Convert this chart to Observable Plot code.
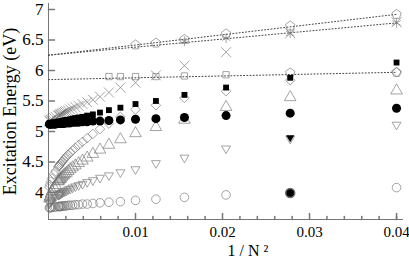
<!DOCTYPE html>
<html><head><meta charset="utf-8">
<script src="https://cdn.jsdelivr.net/npm/d3@7"></script>
<script src="https://cdn.jsdelivr.net/npm/@observablehq/plot@0.6"></script>
<style>html,body{margin:0;padding:0;background:#fff}</style>
</head><body><div id="chart"></div>
<script>
// N values (x = 1/N^2)
const nCluster = [5,6,7,8,9,10,11,12,13,14,15,16,17,18,19,20,21,22,23,24,25,26,27,28,29,30,35,40,50,60,80,100];
const openCircle   = [4.08,3.99,3.96,3.92,3.89,3.87,3.85,3.84,3.83,3.82,3.81,3.81,3.80,3.80,3.79,3.79,3.79,3.78,3.78,3.78,3.78,3.77,3.77,3.77,3.77,3.77,3.76,3.76,3.76,3.75,3.75,3.75];
const downTriangle = [5.11,4.88,4.72,4.57,4.48,4.38,4.33,4.28,4.24,4.20,4.17,4.14,4.12,4.10,4.08,4.06,4.05,4.03,4.02,4.01,4.00,3.99,3.98,3.97,3.96,3.96,3.93,3.91,3.88,3.86,3.84,3.82];
const upTriangle   = [5.67,5.56,5.40,5.19,5.07,4.97,4.87,4.78,4.70,4.63,4.57,4.52,4.48,4.44,4.41,4.38,4.35,4.32,4.30,4.28,4.26,4.24,4.22,4.21,4.19,4.18,4.12,4.08,4.02,3.98,3.93,3.90];
const diamondS     = [5.97,5.84,5.66,5.55,5.43,5.36,5.24,5.13,5.04,4.96,4.89,4.83,4.78,4.73,4.69,4.65,4.62,4.59,4.56,4.53,4.51,4.49,4.47,4.45,4.43,4.42,4.35,4.30,4.23,4.18,4.13,4.09];
const crossS       = [6.79,6.61,6.30,6.08,5.92,5.80,5.72,5.64,5.57,5.52,5.48,5.45,5.42,5.40,5.38,5.36,5.34,5.33,5.32,5.31,5.30,5.29,5.28,5.27,5.26,5.26,5.24,5.22,5.20,5.19,5.18,5.17];
const filledCircle = [5.38,5.30,5.26,5.23,5.21,5.20,5.19,5.18,5.17,5.17,5.16,5.16,5.15,5.15,5.15,5.14,5.14,5.14,5.14,5.13,5.13,5.13,5.13,5.13,5.13,5.13,5.12,5.12,5.12,5.12,5.12,5.12];
const filledSquare = [6.13,5.88,5.72,5.60,5.50,5.45,5.39,5.35,5.31,5.28,5.26,5.24,5.23,5.22,5.21,5.20,5.19,5.19,5.18,5.18,5.17,5.17,5.16,5.16,5.16,5.16,5.15,5.15,5.14,5.14,5.13,5.13];

const nPentTop = [5,6,7,8,9,10];
const pentTop  = [6.92,6.73,6.60,6.51,6.45,6.42];
const nStar = [5,6,7,8];
const starS = [6.78,6.61,6.53,6.48];
const nPentLow = [5,6];
const pentLow  = [5.97,5.96];
const nSquare = [7,8,9,10,11,12];
const openSquare = [5.93,5.91,5.90,5.90,5.90,5.90];
const nExtra = [6];
const extraDownTri = [4.90];
const extraCircle  = [3.99];

// dotted extrapolation lines
const fitX    = [0, 0.04];
const fitTop  = [6.25, 6.92];
const fitMid  = [6.25, 6.78];
const fitLow  = [5.85, 5.97];

// axes
const xMajor = [0.01, 0.02, 0.03, 0.04];
const xMajorLabels = ["0.01", "0.02", "0.03", "0.04"];
const xMinor = [0.002,0.004,0.006,0.008,0.012,0.014,0.016,0.018,0.022,0.024,0.026,0.028,0.032,0.034,0.036,0.038,0.040];
const yMajor = [4, 4.5, 5, 5.5, 6, 6.5, 7];
const yMajorLabels = ["4", "4.5", "5", "5.5", "6", "6.5", "7"];
const xDomain = [0, 0.0408];
const yDomain = [3.557, 7.098];

const rows = (ns, vals) => ns.map((n, i) => ({x: 1 / (n * n), y: vals[i]}));
const polygon = (angles, scale) => ({
  draw(ctx, size) {
    const r = Math.sqrt(size / Math.PI) * scale;
    angles.forEach((a, k) => {
      const px = r * Math.cos(a), py = r * Math.sin(a);
      if (k) ctx.lineTo(px, py); else ctx.moveTo(px, py);
    });
    ctx.closePath();
  }
});
const deg = Math.PI / 180;
const pentagon = polygon([-90, -18, 54, 126, 198].map(a => a * deg), 1.15);
const downTri = polygon([90, 210, 330].map(a => a * deg), 1.25);
const tickUp = {draw(ctx, l) { ctx.moveTo(0, 0); ctx.lineTo(0, -l); }};

const gray = "#6f6f6f";
const hollow = (data, symbol, r) => Plot.dot(data, {x: "x", y: "y", symbol, r, stroke: gray, strokeOpacity: 0.7, strokeWidth: 0.9, fill: "none"});
const fitLine = (ys) => Plot.line(fitX.map((x, i) => ({x, y: ys[i]})), {x: "x", y: "y", stroke: "#444", strokeWidth: 1, strokeDasharray: "1,2.2"});

const chart = Plot.plot({
  width: 409, height: 264,
  marginLeft: 48, marginRight: 6, marginTop: 3, marginBottom: 45,
  x: {domain: xDomain, axis: null},
  y: {domain: yDomain, axis: null},
  style: {fontFamily: "'Liberation Serif', 'DejaVu Serif', serif", background: "#fff", color: "#000"},
  marks: [
    // axis lines
    Plot.ruleX([xDomain[0]], {stroke: "#777", strokeWidth: 1}),
    Plot.ruleY([yDomain[0]], {stroke: "#777", strokeWidth: 1}),
    Plot.vector(xMajor, {x: d => d, y: yDomain[0], length: 6, rotate: 0, anchor: "start", shape: tickUp, stroke: "#777"}),
    Plot.vector(xMinor, {x: d => d, y: yDomain[0], length: 3, rotate: 0, anchor: "start", shape: tickUp, stroke: "#777"}),
    Plot.vector(yMajor, {x: xDomain[0], y: d => d, length: 6, rotate: 90, anchor: "start", shape: tickUp, stroke: "#777"}),
    Plot.text(xMajor, {x: d => d, frameAnchor: "bottom", dy: 17, text: (d, i) => xMajorLabels[i], fontSize: 15, fill: "#000"}),
    Plot.text(yMajor, {y: d => d, frameAnchor: "left", dx: -5, textAnchor: "end", text: (d, i) => yMajorLabels[i], fontSize: 17, fill: "#000"}),
    Plot.text(["Excitation Energy (eV)"], {frameAnchor: "left", textAnchor: "middle", dx: -38, rotate: -90, fontSize: 18, fill: "#000"}),
    Plot.text(["1 / N ²"], {frameAnchor: "bottom", textAnchor: "middle", dx: 22, dy: 36, fontSize: 16, fill: "#000"}),
    // fit lines
    fitLine(fitTop), fitLine(fitMid), fitLine(fitLow),
    // hollow series
    hollow(rows(nCluster, openCircle), "circle", 4.3),
    hollow(rows(nCluster, downTriangle), downTri, 4.1),
    hollow(rows(nCluster, upTriangle), "triangle", 4.3),
    hollow(rows(nCluster, diamondS), "diamond2", 4.3),
    hollow(rows(nCluster, crossS), "times", 4.6),
    hollow(rows(nSquare, openSquare), "square2", 4),
    hollow(rows(nPentLow, pentLow), pentagon, 4.3),
    hollow(rows(nPentTop, pentTop), pentagon, 4.3),
    hollow(rows(nStar, starS), "asterisk", 4.6),
    // filled series
    Plot.dot(rows(nCluster, filledCircle), {x: "x", y: "y", r: 4.5, fill: "#000", stroke: "none"}),
    Plot.dot(rows(nCluster, filledSquare), {x: "x", y: "y", symbol: "square", r: 3.3, fill: "#000", stroke: "none"}),
    Plot.dot(rows(nExtra, extraDownTri), {x: "x", y: "y", symbol: downTri, r: 3.8, fill: "#000", stroke: "none"}),
    Plot.dot(rows(nExtra, extraCircle), {x: "x", y: "y", r: 4.5, fill: "#000", stroke: gray})
  ]
});
document.getElementById("chart").appendChild(chart);
</script>
</body></html>
